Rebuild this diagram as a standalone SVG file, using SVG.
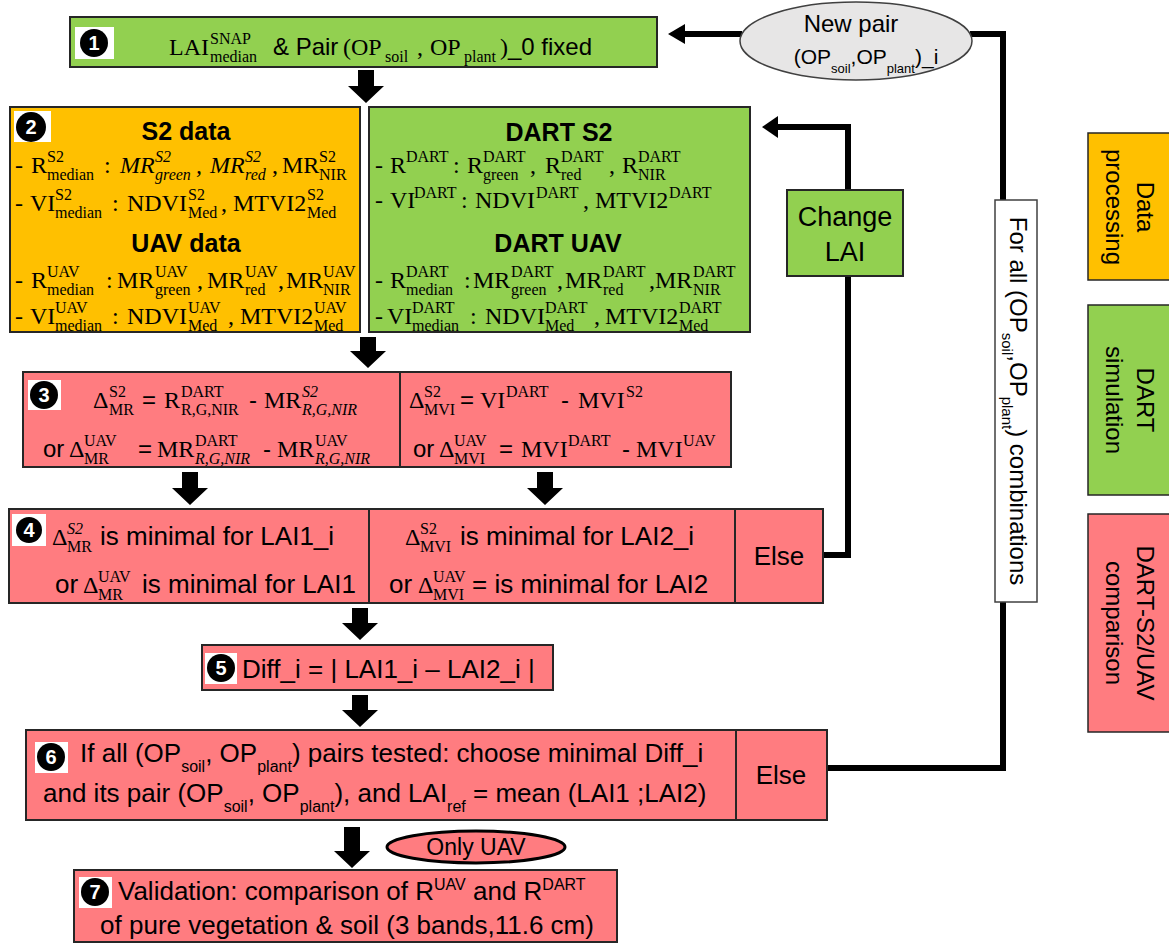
<svg xmlns="http://www.w3.org/2000/svg" width="1169" height="945" viewBox="0 0 1169 945">
<defs>
<style>
.bx{stroke:#262626;stroke-width:2}
.g{fill:#92D050}.o{fill:#FFC000}.p{fill:#FF7C80}
.m{font-family:"Liberation Serif","Times New Roman",serif;font-size:24px;fill:#000}
.s{font-size:16px}
.i{font-style:italic}
.a{font-family:"Liberation Sans",Arial,sans-serif;font-size:26px;fill:#000}
.a24{font-family:"Liberation Sans",Arial,sans-serif;font-size:24px;fill:#000}
.b{font-family:"Liberation Sans",Arial,sans-serif;font-size:25px;font-weight:bold;fill:#000}
.sub{font-size:16px}
.num{font-family:"Liberation Sans",Arial,sans-serif;font-size:20px;font-weight:bold;fill:#fff;text-anchor:middle}
.c{text-anchor:middle}
.ln{fill:none;stroke:#000;stroke-width:6;stroke-linejoin:miter}
.arr{fill:#000}
</style>
</defs>
<rect width="1169" height="945" fill="#fff"/>

<g id="connectors">
<path class="arr" d="M358,70 H374 V86 H384 L366,103 L348,86 H358 Z"/>
<path class="arr" d="M360,337 H376 V351 H386 L368,368 L350,351 H360 Z"/>
<path class="arr" d="M182,472 H198 V488 H208 L190,505 L172,488 H182 Z"/>
<path class="arr" d="M537,472 H553 V488 H563 L545,505 L527,488 H537 Z"/>
<path class="arr" d="M352,608 H368 V623 H378 L360,640 L342,623 H352 Z"/>
<path class="arr" d="M352,695 H368 V710 H378 L360,727 L342,710 H352 Z"/>
<path class="arr" d="M344,827 H360 V851 H370 L352,868 L334,851 H344 Z"/>
<polyline class="ln" points="822,555 848,555 848,127 776,127"/>
<polygon class="arr" points="762,127 778,116 778,138"/>
<polyline class="ln" points="827,768 1003,768 1003,34 970,34"/>
<line class="ln" x1="742" y1="34" x2="683" y2="34"/>
<polygon class="arr" points="668,34 685,24 685,44"/>
</g>

<g id="n1">
<rect class="bx g" x="70" y="17" width="587" height="50"/>
<rect x="75" y="27" width="39" height="32" fill="#fff"/>
<circle cx="94" cy="43" r="14" fill="#000"/>
<text class="num" x="94" y="50">1</text>
<text class="m"><tspan x="169" y="55">LAI</tspan><tspan class="s" x="210" y="44">SNAP</tspan><tspan class="s" x="210" y="62">median</tspan><tspan x="343" y="55">(</tspan><tspan x="351" y="55">OP</tspan><tspan class="s" x="385" y="62">soil</tspan><tspan x="417" y="55">,</tspan><tspan x="430" y="55">OP</tspan><tspan class="s" x="464" y="62">plant</tspan><tspan x="500" y="55">)</tspan></text>
<text class="a24" x="273" y="55">&amp; Pair</text>
<text class="a24" x="508" y="55">_0 fixed</text>
</g>

<g id="n2a">
<rect class="bx o" x="10" y="107" width="350" height="225"/>
<rect x="14" y="111" width="37" height="31" fill="#fff"/>
<circle cx="31" cy="127" r="15" fill="#000"/>
<text class="num" x="31" y="134">2</text>
<text class="b c" x="186" y="140">S2 data</text>
<text class="m"><tspan x="15" y="173">-</tspan><tspan x="31" y="173">R</tspan><tspan class="s" x="47" y="162">S2</tspan><tspan class="s" x="47" y="180">median</tspan><tspan x="104" y="173">:</tspan><tspan class="i" x="120" y="173">MR</tspan><tspan class="s i" x="155" y="162">S2</tspan><tspan class="s i" x="155" y="180">green</tspan><tspan class="i" x="196" y="173">,</tspan><tspan class="i" x="210" y="173">MR</tspan><tspan class="s i" x="245" y="162">S2</tspan><tspan class="s i" x="245" y="180">red</tspan><tspan x="272" y="173">,</tspan><tspan x="282" y="173">MR</tspan><tspan class="s" x="319" y="162">S2</tspan><tspan class="s" x="319" y="180">NIR</tspan></text>
<text class="m"><tspan x="15" y="211">-</tspan><tspan x="30" y="211">VI</tspan><tspan class="s" x="55" y="200">S2</tspan><tspan class="s" x="55" y="218">median</tspan><tspan x="112" y="211">:</tspan><tspan x="127" y="211">NDVI</tspan><tspan class="s" x="188" y="200">S2</tspan><tspan class="s" x="188" y="218">Med</tspan><tspan x="221" y="211">,</tspan><tspan x="233" y="211">MTVI2</tspan><tspan class="s" x="307" y="200">S2</tspan><tspan class="s" x="307" y="218">Med</tspan></text>
<text class="b c" x="186" y="252">UAV data</text>
<text class="m"><tspan x="15" y="288">-</tspan><tspan x="31" y="288">R</tspan><tspan class="s" x="47" y="277">UAV</tspan><tspan class="s" x="47" y="295">median</tspan><tspan x="106" y="288">:</tspan><tspan x="117" y="288">MR</tspan><tspan class="s" x="155" y="277">UAV</tspan><tspan class="s" x="155" y="295">green</tspan><tspan x="197" y="288">,</tspan><tspan x="207" y="288">MR</tspan><tspan class="s" x="245" y="277">UAV</tspan><tspan class="s" x="245" y="295">red</tspan><tspan x="278" y="288">,</tspan><tspan x="286" y="288">MR</tspan><tspan class="s" x="323" y="277">UAV</tspan><tspan class="s" x="323" y="295">NIR</tspan></text>
<text class="m"><tspan x="15" y="324">-</tspan><tspan x="30" y="324">VI</tspan><tspan class="s" x="55" y="313">UAV</tspan><tspan class="s" x="55" y="331">median</tspan><tspan x="112" y="324">:</tspan><tspan x="127" y="324">NDVI</tspan><tspan class="s" x="188" y="313">UAV</tspan><tspan class="s" x="188" y="331">Med</tspan><tspan x="228" y="324">,</tspan><tspan x="240" y="324">MTVI2</tspan><tspan class="s" x="314" y="313">UAV</tspan><tspan class="s" x="314" y="331">Med</tspan></text>
</g>

<g id="n2b">
<rect class="bx g" x="369" y="107" width="381" height="225"/>
<text class="b c" x="559" y="141">DART S2</text>
<text class="m"><tspan x="375" y="173">-</tspan><tspan x="390" y="173">R</tspan><tspan class="s" x="406" y="162">DART</tspan><tspan x="453" y="173">:</tspan><tspan x="467" y="173">R</tspan><tspan class="s" x="483" y="162">DART</tspan><tspan class="s" x="483" y="180">green</tspan><tspan x="530" y="173">,</tspan><tspan x="545" y="173">R</tspan><tspan class="s" x="561" y="162">DART</tspan><tspan class="s" x="561" y="180">red</tspan><tspan x="609" y="173">,</tspan><tspan x="622" y="173">R</tspan><tspan class="s" x="638" y="162">DART</tspan><tspan class="s" x="638" y="180">NIR</tspan></text>
<text class="m"><tspan x="375" y="208">-</tspan><tspan x="390" y="208">VI</tspan><tspan class="s" x="414" y="198">DART</tspan><tspan x="461" y="208">:</tspan><tspan x="475" y="208">NDVI</tspan><tspan class="s" x="536" y="198">DART</tspan><tspan x="583" y="208">,</tspan><tspan x="595" y="208">MTVI2</tspan><tspan class="s" x="669" y="198">DART</tspan></text>
<text class="b c" x="558" y="252">DART UAV</text>
<text class="m"><tspan x="375" y="288">-</tspan><tspan x="390" y="288">R</tspan><tspan class="s" x="406" y="277">DART</tspan><tspan class="s" x="406" y="295">median</tspan><tspan x="464" y="288">:</tspan><tspan x="473" y="288">MR</tspan><tspan class="s" x="511" y="277">DART</tspan><tspan class="s" x="511" y="295">green</tspan><tspan x="557" y="288">,</tspan><tspan x="565" y="288">MR</tspan><tspan class="s" x="603" y="277">DART</tspan><tspan class="s" x="603" y="295">red</tspan><tspan x="649" y="288">,</tspan><tspan x="655" y="288">MR</tspan><tspan class="s" x="693" y="277">DART</tspan><tspan class="s" x="693" y="295">NIR</tspan></text>
<text class="m"><tspan x="375" y="324">-</tspan><tspan x="387" y="324">VI</tspan><tspan class="s" x="412" y="313">DART</tspan><tspan class="s" x="412" y="331">median</tspan><tspan x="470" y="324">:</tspan><tspan x="485" y="324">NDVI</tspan><tspan class="s" x="545" y="313">DART</tspan><tspan class="s" x="545" y="331">Med</tspan><tspan x="594" y="324">,</tspan><tspan x="605" y="324">MTVI2</tspan><tspan class="s" x="679" y="313">DART</tspan><tspan class="s" x="679" y="331">Med</tspan></text>
</g>

<g id="n3">
<rect class="bx p" x="23" y="372" width="708" height="95"/>
<line class="bx" x1="400" y1="372" x2="400" y2="467"/>
<rect x="28" y="380" width="33" height="30" fill="#fff"/>
<circle cx="44" cy="395" r="14" fill="#000"/>
<text class="num" x="44" y="402">3</text>
<text class="m"><tspan x="93" y="408">Δ</tspan><tspan class="s" x="109" y="397">S2</tspan><tspan class="s" x="109" y="415">MR</tspan><tspan x="164" y="408">R</tspan><tspan class="s" x="181" y="397">DART</tspan><tspan class="s" x="181" y="415">R,G,NIR</tspan><tspan x="264" y="408">MR</tspan><tspan class="s i" x="302" y="397">S2</tspan><tspan class="s i" x="302" y="415">R,G,NIR</tspan></text>
<text class="a24"><tspan x="142" y="408">=</tspan><tspan x="249" y="408">-</tspan></text>
<text class="m"><tspan x="69" y="457">Δ</tspan><tspan class="s" x="84" y="446">UAV</tspan><tspan class="s" x="84" y="464">MR</tspan><tspan x="157" y="457">MR</tspan><tspan class="s" x="195" y="446">DART</tspan><tspan class="s i" x="195" y="464">R,G,NIR</tspan><tspan x="277" y="457">MR</tspan><tspan class="s" x="315" y="446">UAV</tspan><tspan class="s i" x="315" y="464">R,G,NIR</tspan></text>
<text class="a24"><tspan x="43" y="457">or</tspan><tspan x="138" y="457">=</tspan><tspan x="263" y="457">-</tspan></text>
<text class="m"><tspan x="409" y="408">Δ</tspan><tspan class="s" x="424" y="397">S2</tspan><tspan class="s" x="424" y="415">MVI</tspan><tspan x="480" y="408">VI</tspan><tspan class="s" x="506" y="397">DART</tspan><tspan x="578" y="408">MVI</tspan><tspan class="s" x="626" y="397">S2</tspan></text>
<text class="a24"><tspan x="460" y="408">=</tspan><tspan x="561" y="408">-</tspan></text>
<text class="m"><tspan x="439" y="457">Δ</tspan><tspan class="s" x="454" y="446">UAV</tspan><tspan class="s" x="454" y="464">MVI</tspan><tspan x="521" y="457">MVI</tspan><tspan class="s" x="568" y="446">DART</tspan><tspan x="636" y="457">MVI</tspan><tspan class="s" x="683" y="446">UAV</tspan></text>
<text class="a24"><tspan x="413" y="457">or</tspan><tspan x="499" y="457">=</tspan><tspan x="622" y="457">-</tspan></text>
</g>

<g id="n4">
<rect class="bx p" x="9" y="509" width="814" height="94"/>
<line class="bx" x1="369" y1="509" x2="369" y2="603"/>
<line class="bx" x1="735" y1="509" x2="735" y2="603"/>
<rect x="12" y="514" width="34" height="32" fill="#fff"/>
<circle cx="29" cy="530" r="13" fill="#000"/>
<text class="num" x="29" y="537">4</text>
<text class="m"><tspan x="52" y="545">Δ</tspan><tspan class="s i" x="67" y="534">S2</tspan><tspan class="s" x="67" y="552">MR</tspan><tspan x="83" y="593">Δ</tspan><tspan class="s" x="98" y="582">UAV</tspan><tspan class="s" x="98" y="600">MR</tspan><tspan x="405" y="545">Δ</tspan><tspan class="s" x="420" y="534">S2</tspan><tspan class="s" x="420" y="552">MVI</tspan><tspan x="418" y="593">Δ</tspan><tspan class="s" x="433" y="582">UAV</tspan><tspan class="s" x="433" y="600">MVI</tspan></text>
<text class="a"><tspan x="100" y="545">is minimal for LAI1_i</tspan><tspan x="55" y="593">or</tspan><tspan x="142" y="593">is minimal for LAI1</tspan><tspan x="460" y="545">is minimal for LAI2_i</tspan><tspan x="389" y="593">or</tspan><tspan x="472" y="593">= is minimal for LAI2</tspan></text>
<text class="a c" x="779" y="565">Else</text>
</g>

<g id="n5">
<rect class="bx p" x="202" y="645" width="351" height="45"/>
<rect x="205" y="653" width="32" height="31" fill="#fff"/>
<circle cx="221" cy="668" r="14" fill="#000"/>
<text class="num" x="221" y="675">5</text>
<text class="a" x="242" y="678">Diff_i = | LAI1_i – LAI2_i |</text>
</g>

<g id="n6">
<rect class="bx p" x="26" y="730" width="801" height="90"/>
<line class="bx" x1="736" y1="730" x2="736" y2="820"/>
<rect x="35" y="742" width="33" height="31" fill="#fff"/>
<circle cx="51" cy="757" r="14" fill="#000"/>
<text class="num" x="51" y="764">6</text>
<text class="a" x="80" y="762">If all (OP<tspan class="sub" dy="10">soil</tspan><tspan dy="-10">, OP</tspan><tspan class="sub" dy="10">plant</tspan><tspan dy="-10">) pairs tested: choose minimal Diff_i</tspan></text>
<text class="a" x="43" y="802">and its pair (OP<tspan class="sub" dy="10">soil</tspan><tspan dy="-10">, OP</tspan><tspan class="sub" dy="10">plant</tspan><tspan dy="-10">), and LAI</tspan><tspan class="sub" dy="10">ref</tspan><tspan dy="-10"> = mean (LAI1 ;LAI2)</tspan></text>
<text class="a c" x="781" y="784">Else</text>
</g>

<g id="n7">
<rect class="bx p" x="74" y="870" width="543" height="72"/>
<rect x="79" y="877" width="33" height="31" fill="#fff"/>
<circle cx="95" cy="892" r="14" fill="#000"/>
<text class="num" x="95" y="899">7</text>
<text class="a" x="118" y="900">Validation: comparison of R<tspan class="sub" dy="-10">UAV</tspan><tspan dy="10"> and R</tspan><tspan class="sub" dy="-10">DART</tspan></text>
<text class="a c" x="347" y="934">of pure vegetation &amp; soil (3 bands,11.6 cm)</text>
</g>

<g id="onlyuav">
<ellipse cx="476" cy="847" rx="89" ry="16" fill="#FF7C80" stroke="#000" stroke-width="3"/>
<text class="a24 c" x="476" y="855" style="font-size:23px">Only UAV</text>
</g>

<g id="newpair">
<ellipse cx="856" cy="41" rx="116" ry="39" fill="#E7E6E6" stroke="#404040" stroke-width="1.5"/>
<text class="a24 c" x="851" y="32">New pair</text>
<text class="a24 c" x="866" y="64" style="font-size:21px">(OP<tspan style="font-size:13px" dy="9">soil</tspan><tspan dy="-9">,OP</tspan><tspan style="font-size:13px" dy="9">plant</tspan><tspan dy="-9">)_i</tspan></text>
</g>

<g id="changelai">
<rect class="bx g" x="787" y="190" width="116" height="86"/>
<text class="a c" x="845" y="226" style="font-size:27px">Change</text>
<text class="a c" x="845" y="261" style="font-size:27px">LAI</text>
</g>

<g id="forall">
<rect x="995" y="200" width="42" height="402" fill="#fff" stroke="#404040" stroke-width="1.5"/>
<text class="a24 c" transform="translate(1016,401) rotate(90)" x="0" y="6">For all (OP<tspan style="font-size:15px" dy="8">soil</tspan><tspan dy="-8">,OP</tspan><tspan style="font-size:15px" dy="8">plant</tspan><tspan dy="-8">) combinations</tspan></text>
</g>

<g id="legend-data">
<rect x="1088" y="133" width="82" height="147" fill="#FFC000" stroke="#262626" stroke-width="1.5"/>
<text class="a24 c" transform="translate(1126,207) rotate(90)"><tspan x="0" y="-11">Data</tspan><tspan x="0" y="20">processing</tspan></text>
</g>
<g id="legend-dart">
<rect x="1088" y="305" width="82" height="190" fill="#92D050" stroke="#262626" stroke-width="1.5"/>
<text class="a24 c" transform="translate(1126,400) rotate(90)"><tspan x="0" y="-11">DART</tspan><tspan x="0" y="20">simulation</tspan></text>
</g>
<g id="legend-comp">
<rect x="1088" y="514" width="82" height="218" fill="#FF7C80" stroke="#262626" stroke-width="1.5"/>
<text class="a24 c" transform="translate(1126,623) rotate(90)"><tspan x="0" y="-11">DART-S2/UAV</tspan><tspan x="0" y="20">comparison</tspan></text>
</g>
</svg>
